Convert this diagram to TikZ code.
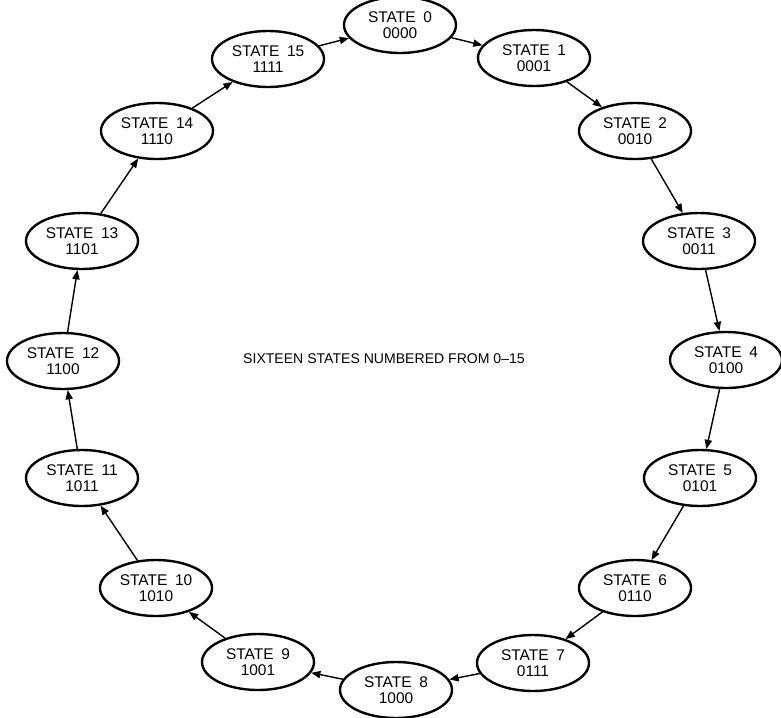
\documentclass[tikz,border=0pt]{standalone}
\usepackage{fontspec}
\setmainfont{Liberation Sans}
\usepackage{tikz}
\usetikzlibrary{arrows.meta,shapes.geometric}

\begin{document}
\begin{tikzpicture}[x=0.025cm,y=-0.025cm,
  statebox/.style={ellipse,draw,line width=1.7pt,minimum width=2.8cm,minimum height=1.4cm,
    inner sep=0pt,align=center,font=\fontsize{11}{11.5}\selectfont},
  trans/.style={-{Triangle[length=2.3mm,width=1.8mm]},line width=1pt}]
  \useasboundingbox (0,0) rectangle (781,717);
  % states placed round the ring, clockwise from the top
  \foreach \i/\x/\y/\bits in {0/400/25/0000,1/534/58/0001,2/635/131/0010,3/699/241/0011,
      4/726/360/0100,5/700/478/0101,6/635/588/0110,7/533/663/0111,8/396/690/1000,
      9/258/662/1001,10/156/588/1010,11/82/478/1011,12/63/361/1100,13/82/241/1101,
      14/157/131/1110,15/268/59/1111}{
    \node[statebox] (s\i) at (\x,\y) {STATE\enspace\i\\\bits};
  }
  \foreach \i [evaluate=\i as \j using {int(mod(\i+1,16))}] in {0,...,15}{
    \draw[trans] (s\i) -- (s\j);
  }
  \node[font=\fontsize{10}{11}\selectfont] (title) at (384,359) {SIXTEEN STATES NUMBERED FROM 0--15};
\end{tikzpicture}
\end{document}
